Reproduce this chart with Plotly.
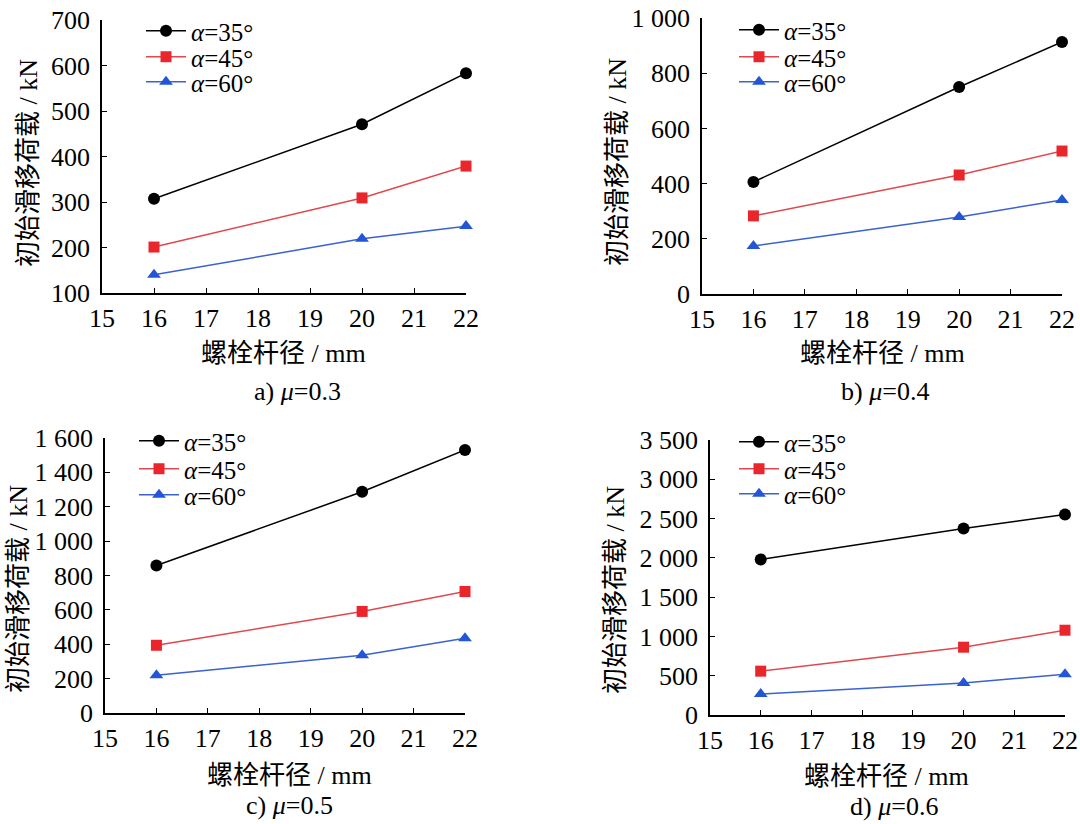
import plotly.graph_objects as go

# ---- data ----
diameters = [16, 20, 22]
series_names = ["<i>α</i>=35°", "<i>α</i>=45°", "<i>α</i>=60°"]

mu03_a35 = [307, 471, 583]
mu03_a45 = [201, 309, 379]
mu03_a60 = [140, 219, 247]

mu04_a35 = [406, 750, 913]
mu04_a45 = [283, 431, 518]
mu04_a60 = [174, 279, 341]

mu05_a35 = [858, 1287, 1530]
mu05_a45 = [394, 591, 707]
mu05_a60 = [220, 336, 435]

mu06_a35 = [1980, 2373, 2551]
mu06_a45 = [558, 863, 1079]
mu06_a60 = [266, 406, 520]

captions = ["a) <i>μ</i>=0.3", "b) <i>μ</i>=0.4", "c) <i>μ</i>=0.5", "d) <i>μ</i>=0.6"]
x_title = "螺栓杆径 / mm"
y_title = "初始滑移荷载 / kN"

y_ranges = [[100, 700], [0, 1000], [0, 1600], [0, 3500]]
y_dticks = [100, 200, 200, 500]

# ---- style ----
FONT = "Liberation Serif, Times New Roman, Noto Sans CJK SC, serif"
colors = ["#000000", "#e8262c", "#2356d6"]
line_colors = ["#000000", "#e0484d", "#3a62d0"]
symbols = ["circle", "square", "triangle-up"]
msizes = [12, 11, 12]

W, H = 1080, 824
# panel pixel boxes: (x0, x1, ytop, ybottom)
boxes = [(102, 466, 20, 293), (702, 1062, 18, 294), (105, 465, 438, 713), (710, 1065, 440, 715)]
legend_x = [141, 734, 134, 734]
legend_rows = [(31, 57, 82), (30, 57, 82), (441, 469, 495), (442, 469, 494)]
ytitle_pos = [(29, 163), (617, 162), (18, 589), (615, 590)]
xtitle_pos = [(283, 353), (882, 354), (289, 775), (886, 776)]
caption_pos = [(297, 391), (885, 391), (289, 805), (894, 806)]

panels = [
    (mu03_a35, mu03_a45, mu03_a60),
    (mu04_a35, mu04_a45, mu04_a60),
    (mu05_a35, mu05_a45, mu05_a60),
    (mu06_a35, mu06_a45, mu06_a60),
]

fig = go.Figure()
layout = dict(
    width=W, height=H, margin=dict(l=0, r=0, t=0, b=0, autoexpand=False),
    paper_bgcolor="white", plot_bgcolor="white",
    font=dict(family=FONT, color="black", size=25),
    separators=". ", showlegend=True,
    annotations=[],
)

def ann(text, px, py, angle=0):
    return dict(text=text, x=px / W, y=1 - py / H, xref="paper", yref="paper",
                showarrow=False, textangle=angle, xanchor="center", yanchor="middle",
                font=dict(family=FONT, size=26, color="black"))

leg_idx = 0
for i, (vals, box) in enumerate(zip(panels, boxes)):
    k = i + 1
    xa = "x" if k == 1 else f"x{k}"
    ya = "y" if k == 1 else f"y{k}"
    for j, v in enumerate(vals):
        leg_idx += 1
        leg = "legend" if leg_idx == 1 else f"legend{leg_idx}"
        fig.add_trace(go.Scatter(
            x=diameters, y=v, mode="lines+markers", name=series_names[j],
            xaxis=xa, yaxis=ya, legend=leg, cliponaxis=False, showlegend=True,
            line=dict(color=line_colors[j], width=1.5),
            marker=dict(color=colors[j], symbol=symbols[j], size=msizes[j]),
        ))
        layout[leg] = dict(
            x=legend_x[i] / W, y=1 - legend_rows[i][j] / H, xanchor="left", yanchor="middle",
            bgcolor="rgba(0,0,0,0)", font=dict(family=FONT, size=25),
            itemwidth=40, borderwidth=0,
        )
    x0, x1, yt, yb = box
    axkey_x = "xaxis" if k == 1 else f"xaxis{k}"
    axkey_y = "yaxis" if k == 1 else f"yaxis{k}"
    layout[axkey_x] = dict(
        domain=[x0 / W, x1 / W], anchor=ya, range=[15, 22], dtick=1, tick0=15,
        showline=True, linecolor="black", linewidth=1.5, showgrid=False, zeroline=False,
        ticks="inside", ticklen=5, tickcolor="black", tickwidth=1.2,
        tickfont=dict(family=FONT, size=26), ticklabelstandoff=1,
        automargin=False,
    )
    layout[axkey_y] = dict(
        domain=[1 - yb / H, 1 - yt / H], anchor=xa, range=y_ranges[i], dtick=y_dticks[i],
        tickformat=",d",
        showline=True, linecolor="black", linewidth=1.5, showgrid=False, zeroline=False,
        ticks="inside", ticklen=5, tickcolor="black", tickwidth=1.2,
        tickfont=dict(family=FONT, size=26), ticklabelstandoff=5,
        automargin=False,
    )
    layout["annotations"].append(ann(y_title, *ytitle_pos[i], angle=-90))
    layout["annotations"].append(ann(x_title, *xtitle_pos[i]))
    layout["annotations"].append(ann(captions[i], *caption_pos[i]))

fig.update_layout(**layout)
fig.write_html(
    "out.html",
    config={"displayModeBar": False},
    post_script="document.body.style.margin='0';document.body.style.overflow='hidden';",
)
